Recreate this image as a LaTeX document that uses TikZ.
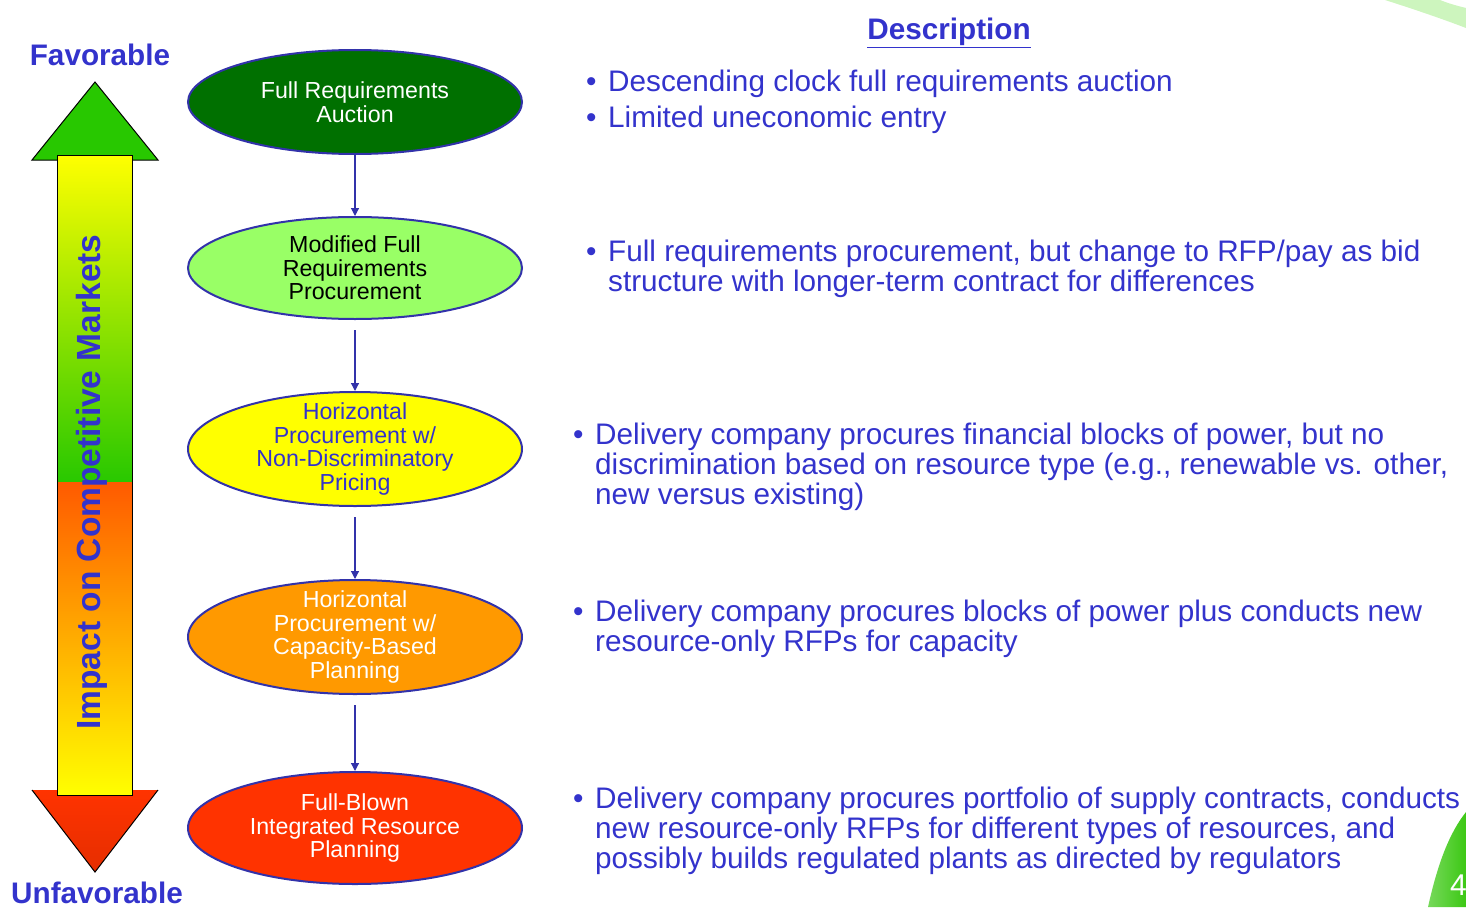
\documentclass[tikz,border=0pt]{standalone}
\usepackage{fontspec}
\setmainfont{Liberation Sans}
\usetikzlibrary{shapes.geometric,arrows.meta}
\definecolor{txtblue}{RGB}{51,51,204}
\definecolor{rimblue}{RGB}{50,50,170}
\definecolor{darkgr}{RGB}{0,112,0}
\definecolor{lightgr}{RGB}{153,255,102}
\definecolor{yel}{RGB}{255,255,0}
\definecolor{orng}{RGB}{255,153,0}
\definecolor{redor}{RGB}{255,51,0}
\definecolor{bargreen}{RGB}{40,200,0}
\definecolor{barorange}{RGB}{255,90,0}
\definecolor{swoosh}{RGB}{205,245,190}
\definecolor{cornergreen}{RGB}{60,200,20}
\tikzset{
  stage/.style={ellipse, draw=rimblue, line width=2pt, minimum width=334pt, minimum height=104pt, inner sep=0pt, align=center, font=\fontsize{23.2}{23.5}\selectfont},
  flow/.style={draw=rimblue, line width=1.2pt, -{Triangle[width=8pt,length=8pt]}},
  desc/.style={anchor=base west, inner sep=0pt, align=left, text=txtblue, font=\fontsize{29.7}{30}\selectfont},
  bul/.style={anchor=base west, inner sep=0pt, text=txtblue, font=\fontsize{29.7}{30}\selectfont},
  endlabel/.style={text=txtblue, font=\fontsize{29.7}{30}\selectfont\bfseries, inner sep=0pt}
}
\begin{document}
\begin{tikzpicture}[x=1pt,y=-1pt]
\useasboundingbox (0,0) rectangle (1466,907);
% decorations
\fill[swoosh] (1385,0) -- (1440,0) .. controls (1450,4) and (1458,6) .. (1466,8) -- (1466,28) .. controls (1440,18) and (1410,8) .. (1385,0) -- cycle;
\shade[left color=cornergreen!70!white, right color=cornergreen] (1428,907) .. controls (1438,862) and (1450,832) .. (1466,812) -- (1466,907) -- cycle;
\node[text=white, font=\fontsize{30}{30}\selectfont, anchor=base west, inner sep=0pt] (pg) at (1450,895) {4};
% big arrow
\filldraw[fill=bargreen, draw=black, line width=1pt] (95,82) -- (158,160) -- (32,160) -- cycle;
\shade[top color=redor, bottom color=redor!90!black] (32,790) -- (158,790) -- (95,872) -- cycle;
\draw[black, line width=1pt] (32,790) -- (95,872) -- (158,790);
\shade[top color=yel, bottom color=bargreen] (57,155) rectangle (132,482);
\shade[top color=barorange, bottom color=yel] (57,482) rectangle (132,795);
\draw[black, line width=1pt] (57,155) rectangle (132,795);
\node[text=txtblue, rotate=90, font=\fontsize{33.5}{33.5}\selectfont\bfseries, inner sep=0pt] (axis) at (92,482) {Impact on Competitive Markets};
\node[endlabel] (fav) at (100,55) {Favorable};
\node[endlabel] (unfav) at (97,893) {Unfavorable};
% stages
\node[stage, fill=darkgr, text=white, minimum height=104pt] (s1) at (355,102) {Full Requirements\\Auction};
\node[stage, fill=lightgr, text=black, minimum height=102pt] (s2) at (355,268) {Modified Full\\Requirements\\Procurement};
\node[stage, fill=yel, text=txtblue, minimum height=114pt, inner ysep=-8pt] (s3) at (355,449) {Horizontal\\Procurement w/\\Non-Discriminatory\\Pricing};
\node[stage, fill=orng, text=white, minimum height=114pt, inner ysep=-8pt] (s4) at (355,637) {Horizontal\\Procurement w/\\Capacity-Based\\Planning};
\node[stage, fill=redor, text=white, minimum height=112pt] (s5) at (355,828) {Full-Blown\\Integrated Resource\\Planning};
\draw[flow] (s1.south) -- (s2.north);
\draw[flow, shorten <=10pt] (s2.south) -- (s3.north);
\draw[flow, shorten <=10pt] (s3.south) -- (s4.north);
\draw[flow, shorten <=10pt] (s4.south) -- (s5.north);
% description
\node[text=txtblue, font=\fontsize{29.7}{30}\selectfont\bfseries, inner sep=0pt, anchor=base] (head) at (949,40) {\underline{Description}};
\node[bul] (b1) at (586,91) {•};
\node[desc] (d1) at (608,91) {Descending clock full requirements auction};
\node[bul] (b2) at (586,127) {•};
\node[desc] (d2) at (608,127) {Limited uneconomic entry};
\node[bul] (b3) at (586,261) {•};
\node[desc] (d3) at (608,291) {Full requirements procurement, but change to RFP/pay as bid\\structure with longer-term contract for differences};
\node[bul] (b4) at (573,444) {•};
\node[desc] (d4) at (595,504) {Delivery company procures financial blocks of power, but no\\discrimination based on resource type (e.g., renewable vs. other,\\new versus existing)};
\node[bul] (b5) at (573,621) {•};
\node[desc] (d5) at (595,651) {Delivery company procures blocks of power plus conducts new\\resource-only RFPs for capacity};
\node[bul] (b6) at (573,808) {•};
\node[desc] (d6) at (595,868) {Delivery company procures portfolio of supply contracts, conducts\\new resource-only RFPs for different types of resources, and\\possibly builds regulated plants as directed by regulators};
\end{tikzpicture}
\end{document}
